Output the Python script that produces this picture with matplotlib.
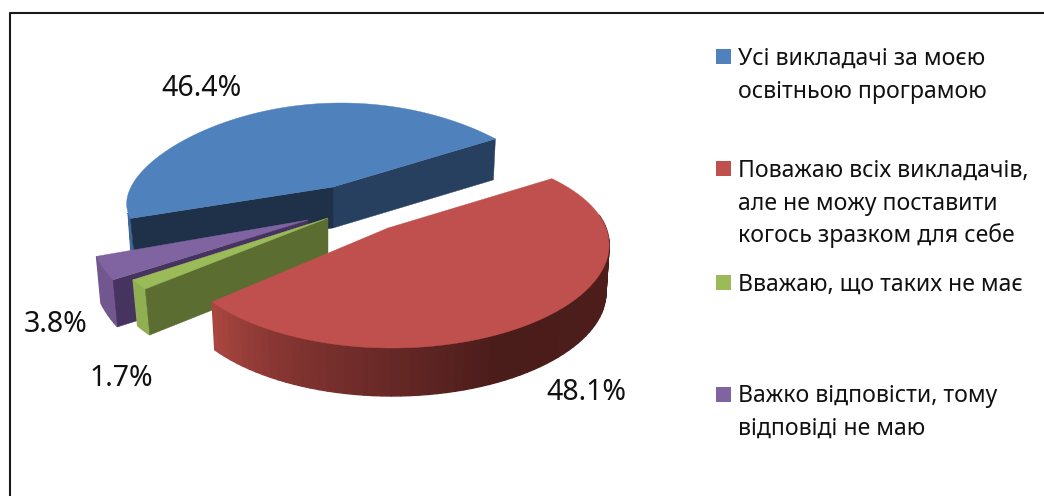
#!/bin/env python3
"""Exploded 3D-looking pie of answers, drawn by hand on a pixel-sized axes."""

import numpy as np
import matplotlib
matplotlib.use("Agg")
import matplotlib.pyplot as plt
from matplotlib.colors import LinearSegmentedColormap

values = [46.4, 48.1, 1.7, 3.8]
value_labels = ["46.4%", "48.1%", "1.7%", "3.8%"]
legend_labels = [
    ["Усі викладачі за моєю", "освітньою програмою"],
    ["Поважаю всіх викладачів,", "але не можу поставити", "когось зразком для себе"],
    ["Вважаю, що таких не має"],
    ["Важко відповісти, тому", "відповіді не маю"],
]

FONT = "Noto Sans"
START_ANGLE = 202.0  # the blue wedge starts here and everything runs clockwise
TOP_COLORS = ["#4f81bd", "#bf504d", "#9bbb59", "#8064a2"]

# ellipse of each wedge in pixels, kx/ky fake the perspective
GEOM = [
    dict(cx=341, cy=187, rx=210, ry=84, kx=0.2, ky=0.0, apex=(333, 187), depth=41, slant=3, shrink=0.0, z=2),
    dict(cx=392, cy=228, rx=214, ry=96, kx=0.17, ky=0.2, apex=(388, 228), depth=48, slant=0, shrink=0.015, z=20),
    dict(cx=281, cy=215, rx=182, ry=111, kx=0.0, ky=0.0, apex=(328, 218), depth=46, slant=4.5, shrink=0.0, z=10),
    dict(cx=230, cy=214, rx=144, ry=113, kx=0.0, ky=0.0, apex=(308, 220), depth=47, slant=4.5, shrink=0.0, z=6),
]

LABEL_POS = [(202, 89), (586, 392), (121, 379), (56, 325)]
LEGEND_Y = [(58.5, 91.5), (170.5, 203.5, 235.5), (284.5,), (396.5, 428.5)]
SWATCH_Y = [57, 169, 283, 395]


def ring(g, angles):
    """Points on the top rim of a wedge for parameter angles in degrees."""
    t = np.radians(angles)
    u, v = np.cos(t), np.sin(t)
    x = g["cx"] + g["rx"] * u / (1 + g["kx"] * v)
    y = g["cy"] - g["ry"] * v / (1 + g["ky"] * v)
    return x, y


def wedge_angles():
    """Start and stop of each wedge, from the values."""
    sweep = 360.0 * np.array(values) / np.sum(values)
    stops = START_ANGLE - np.cumsum(sweep)
    starts = np.concatenate([[START_ANGLE], stops[:-1]])
    return starts, stops


def top_face(ax, g, a0, a1, color):
    t = np.linspace(a0, a1, 120)
    x, y = ring(g, t)
    ax.fill(np.r_[g["apex"][0], x], np.r_[g["apex"][1], y], color=color, lw=0.3, zorder=g["z"] + 2)


def cut_face(ax, g, angle, color, dx=4.0):
    x, y = ring(g, np.array([angle]))
    xs = [g["apex"][0], x[0], x[0] + dx, g["apex"][0]]
    ys = [g["apex"][1], y[0], y[0] + g["depth"], g["apex"][1] + g["depth"]]
    ax.fill(xs, ys, color=color, lw=0.3, zorder=g["z"] + 1)


def rim(ax, g, a0, a1, colors):
    """Outer side of a wedge, split into quads so it can carry a gradient."""
    t = np.linspace(a0, a1, len(colors) + 1)
    x, y = ring(g, t)
    x2 = x + g["slant"] + (g["cx"] - x) * g["shrink"]
    y2 = y + g["depth"]
    for i, c in enumerate(colors):
        ax.fill([x[i], x[i + 1], x2[i + 1], x2[i]], [y[i], y[i + 1], y2[i + 1], y2[i]],
                facecolor=c, edgecolor=c, lw=1.0, zorder=g["z"] + 0.5)


fig = plt.figure(figsize=(10.44, 4.96), dpi=100)
ax = fig.add_axes([0, 0, 1, 1])
ax.set_xlim(0, 1044)
ax.set_ylim(496, 0)
ax.axis("off")

# outer frame of the chart, only left and top edges are in the picture
ax.plot([9.5, 9.5, 1050], [500, 12.5, 12.5], color="#1a1a1a", lw=1.5, zorder=1)

starts, stops = wedge_angles()
blue, red, green, purple = GEOM

# blue: two flat cut faces and a sliver of rim on the far left
rim(ax, blue, 198, starts[0], ["#3d6899"] * 3)
cut_face(ax, blue, stops[0], "#28405f", dx=-2)
cut_face(ax, blue, starts[0], "#1e3149", dx=4)
top_face(ax, blue, starts[0], stops[0], TOP_COLORS[0])

# red: rim with the shading running from the left end to the right
red_cmap = LinearSegmentedColormap.from_list(
    "red_rim", [(0, "#a8463f"), (0.15, "#853532"), (0.4, "#5a2321"), (0.5, "#4a1c1a"), (1, "#4e1e1c")])
rim(ax, red, stops[1], 8, [red_cmap(p) for p in np.linspace(0, 1, 70)])
top_face(ax, red, starts[1], stops[1], TOP_COLORS[1])

# green
rim(ax, green, stops[2], starts[2], ["#90ae52"] * 4)
cut_face(ax, green, starts[2], "#5b6d31", dx=4.5)
top_face(ax, green, starts[2], stops[2], TOP_COLORS[2])

# purple
rim(ax, purple, stops[3], starts[3], ["#72578f"] * 6)
cut_face(ax, purple, starts[3], "#47335f", dx=4.5)
top_face(ax, purple, starts[3], stops[3], TOP_COLORS[3])

for text, (x, y) in zip(value_labels, LABEL_POS):
    ax.text(x, y, text, ha="center", va="center", fontsize=20.5, family=FONT, color="#111111", zorder=40)

for color, lines, ys, sy in zip(TOP_COLORS, legend_labels, LEGEND_Y, SWATCH_Y):
    ax.fill([716, 731, 731, 716], [sy - 8, sy - 8, sy + 7, sy + 7], color=color, lw=0, zorder=40)
    for line, y in zip(lines, ys):
        ax.text(738, y, line, ha="left", va="center", fontsize=16.6, family=FONT, color="#111111", zorder=40)

fig.savefig("out.png", dpi=100)
